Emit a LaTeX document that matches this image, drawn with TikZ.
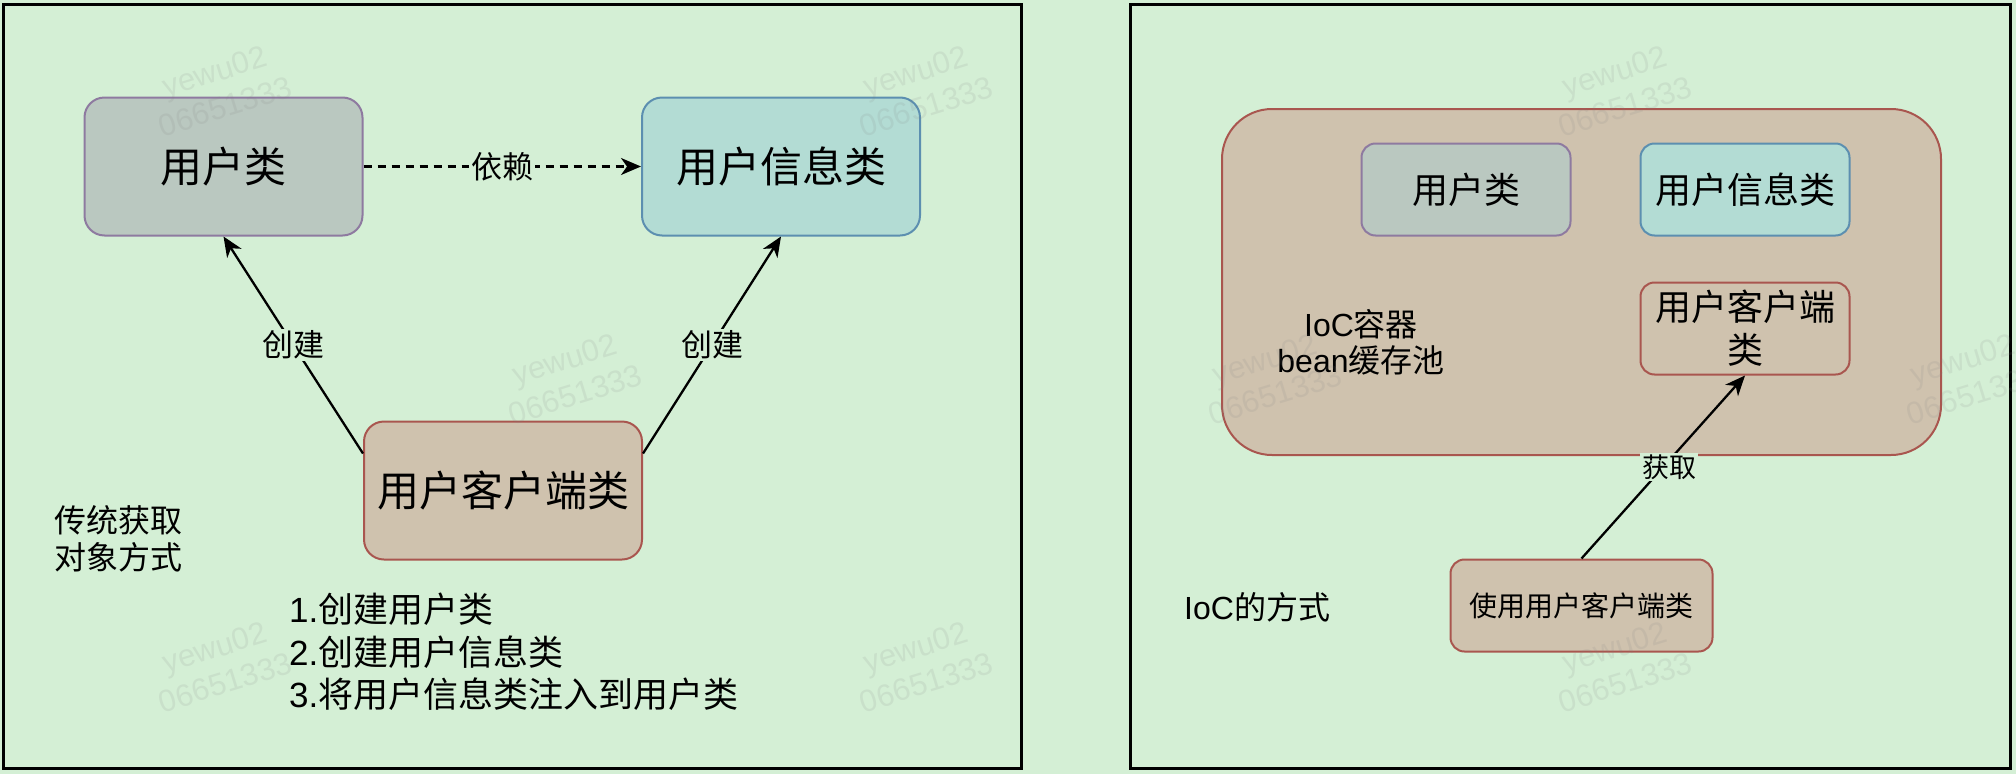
\documentclass[tikz,border=0pt]{standalone}
\usepackage{fontspec}
\setmainfont{Noto Sans CJK SC}
\newfontfamily\lat{Liberation Sans}
\usetikzlibrary{arrows.meta,calc}
\definecolor{bgc}{HTML}{D4EFD5}
\definecolor{grayfill}{HTML}{BAC8C0}
\definecolor{graystroke}{HTML}{8E7AA0}
\definecolor{tealfill}{HTML}{B3DCD4}
\definecolor{tealstroke}{HTML}{5C8FB0}
\definecolor{brownfill}{HTML}{CFC2AE}
\definecolor{brownstroke}{HTML}{A9564F}
\definecolor{wmark}{HTML}{808080}
\tikzset{
  panel/.style={draw=black, line width=3pt, fill=bgc},
  bigbox/.style={rounded corners=20pt, line width=2pt, minimum width=278pt, minimum height=138pt, inner sep=0pt, font=\fontsize{42}{50}\selectfont},
  smallbox/.style={rounded corners=14pt, line width=2pt, minimum width=209pt, minimum height=92pt, inner sep=0pt, align=center, font=\fontsize{36}{43}\selectfont},
  grayb/.style={fill=grayfill, draw=graystroke},
  tealb/.style={fill=tealfill, draw=tealstroke},
  brownb/.style={fill=brownfill, draw=brownstroke},
  arr/.style={draw=black, line width=2.3pt, -{Stealth[length=20pt, width=17pt, inset=6pt]}},
  lbl/.style={fill=bgc, inner sep=2pt, font=\fontsize{31}{37}\selectfont},
  plain/.style={inner sep=0pt},
  wm/.style={inner sep=0pt, align=center, rotate=17, text=wmark, text opacity=0.13, font=\lat\fontsize{31}{37}\selectfont}
}
\begin{document}
\begin{tikzpicture}[x=1pt,y=-1pt]
\useasboundingbox[fill=bgc] (0,0) rectangle (2016,774);
% panels
\node[panel, minimum width=1018pt, minimum height=763.5pt, inner sep=0pt] (P1) at (512.5,386.25) {};
\node[panel, minimum width=880pt, minimum height=763.5pt, inner sep=0pt] (P2) at (1570.5,386.25) {};

% left panel
\node[bigbox, grayb] (A) at (223.5,166.5) {用户类};
\node[bigbox, tealb] (B) at (781,166.5) {用户信息类};
\node[bigbox, brownb] (C) at (503,490.5) {用户客户端类};

\draw[arr, dash pattern=on 8pt off 6pt] (A.east) -- node[lbl] (l1) {依赖} (B.west);
\draw[arr] ([yshift=37pt]C.west) -- node[lbl] (l2) {创建} (A.south);
\draw[arr] ([yshift=37pt]C.east) -- node[lbl] (l3) {创建} (B.south);

\node[plain, anchor=west, align=left, font=\fontsize{32}{37}\selectfont] (t1) at (54,539) {传统获取\\对象方式};
\node[plain, anchor=west, align=left, font=\fontsize{35}{42.5}\selectfont] (t2) at (289,652)
  {{\lat 1.}创建用户类\\{\lat 2.}创建用户信息类\\{\lat 3.}将用户信息类注入到用户类};

% right panel
\node[fill=brownfill, draw=brownstroke, rounded corners=50pt, line width=2pt, minimum width=719pt, minimum height=346pt, inner sep=0pt] (K) at (1581.5,282) {};
\node[plain, align=center, font=\fontsize{32}{36}\selectfont] (kl) at (1361,342) {{\lat IoC}容器\\{\lat bean}缓存池};
\node[smallbox, grayb] (D) at (1466,189.5) {用户类};
\node[smallbox, tealb] (E) at (1745,189.5) {用户信息类};
\node[smallbox, brownb] (F) at (1745,328.5) {用户客户端\\类};
\node[smallbox, brownb, minimum width=262pt, font=\fontsize{28}{34}\selectfont] (G) at (1581.5,605.5) {使用用户客户端类};
\draw[arr] (G.north) -- node[lbl, font=\fontsize{27}{32}\selectfont, xshift=6pt] (l4) {获取} (F.south);
\node[plain, anchor=west, font=\fontsize{32}{37}\selectfont] (t3) at (1184,607) {{\lat IoC}的方式};

% watermarks
\foreach \wx/\wy [count=\i] in {220/89, 921/89, 1620/89, 570/377, 1270/377, 1968/377, 220/665, 921/665, 1620/665}{
  \node[wm] (w\i) at (\wx,\wy) {yewu02\\06651333};
}
\end{tikzpicture}
\end{document}
